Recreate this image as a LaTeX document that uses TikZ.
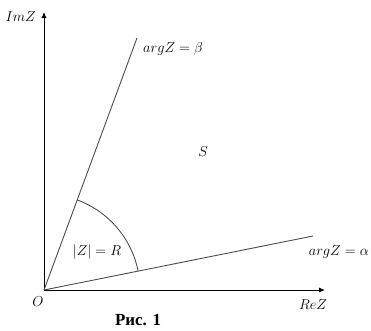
\documentclass[tikz,border=0pt]{standalone}
\usepackage{fontspec}
\setmainfont{Liberation Serif}
\usetikzlibrary{arrows.meta}
\begin{document}
\begin{tikzpicture}[x=1bp,y=-1bp,
  axis/.style={line width=0.9bp,-{Latex[length=6bp,width=5bp]}},
  ray/.style={line width=0.9bp,black!70},
  lbl/.style={inner sep=0pt,font=\fontsize{15}{17}\selectfont}]
\useasboundingbox (0,0) rectangle (371,331);
\coordinate (O) at (44,290);
\coordinate (Y) at (44,12);
\coordinate (X) at (325,290);
\coordinate (B) at (137,38);
\coordinate (A) at (313,236);
\draw[axis] (O) -- (Y);
\draw[axis] (O) -- (X);
\draw[ray] (O) -- (B);
\draw[ray] (O) -- (A);
\draw[line width=0.8bp,black!75] (O) ++(-11.35:96) arc[start angle=-11.35,end angle=-69.7,radius=96];
\node[lbl,anchor=east] (im) at (36,17) {$ImZ$};
\node[lbl,anchor=west] (lb) at (143,49) {$argZ=\beta$};
\node[lbl] (s) at (203,152) {$S$};
\node[lbl] (r) at (97,252) {$|Z|=R$};
\node[lbl,anchor=east] (la) at (369,252) {$argZ=\alpha$};
\node[lbl] (o) at (38,302) {$O$};
\node[lbl] (re) at (313,305) {$ReZ$};
\node[inner sep=0pt,font=\fontsize{17}{19}\selectfont\bfseries] (cap) at (138,320) {Рис. 1};
\end{tikzpicture}
\end{document}
